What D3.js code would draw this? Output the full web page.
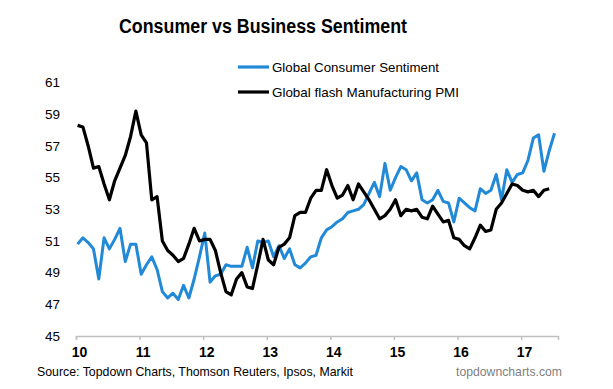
<!DOCTYPE html>
<html>
<head>
<meta charset="utf-8">
<script src="https://cdn.jsdelivr.net/npm/d3@7"></script>
<style>
  body { margin: 0; background: #fff; }
  text { font-family: Arial, "Liberation Sans", sans-serif; fill: #000; }
</style>
</head>
<body>
<div id="chart"></div>
<script>
// Data, monthly from Jan 2010
const consumer = [
  50.8, 51.2, 50.9, 50.5, 48.6, 51.2, 50.5, 51.1, 51.8, 49.7, 50.8, 50.8,
  48.9, 49.5, 50.0, 49.2, 47.8, 47.4, 47.7, 47.3, 48.2, 47.4, 48.6, 50.0,
  51.5, 48.4, 48.8, 48.9, 49.5, 49.4, 49.4, 49.4, 50.6, 49.3, 51.0, 50.9,
  51.0, 50.0, 50.7, 49.9, 50.5, 49.5, 49.3, 49.6, 50.0, 50.1, 51.2, 51.7,
  51.9, 52.2, 52.4, 52.8, 52.9, 53.0, 53.3, 54.0, 54.7, 53.8, 55.9, 54.2,
  55.0, 55.7, 55.5, 54.8, 55.3, 53.6, 53.4, 53.6, 54.2, 53.5, 53.4, 52.2,
  53.7, 53.4, 53.1, 52.9, 54.3, 54.0, 54.2, 55.2, 53.6, 55.5, 54.7, 55.2,
  55.3, 56.1, 57.5, 57.7, 55.4, 56.7, 57.8
];
const pmi = [
  58.3, 58.2, 57.0, 55.6, 55.7, 54.6, 53.6, 54.8, 55.6, 56.4, 57.6, 59.2,
  57.7, 57.2, 53.6, 53.8, 51.0, 50.4, 50.1, 49.7, 49.9, 50.8, 51.8, 51.0,
  51.1, 51.1, 50.4, 49.0, 47.8, 47.6, 48.6, 49.0, 48.1, 48.0, 49.5, 51.1,
  49.8, 49.5, 50.6, 50.8, 51.2, 52.6, 52.8, 52.8, 53.7, 54.2, 54.2, 55.5,
  54.5, 53.7, 53.9, 54.5, 53.6, 54.6, 54.1, 53.6, 53.0, 52.4, 52.6, 53.0,
  53.6, 52.6, 53.0, 52.9, 53.0, 52.5, 52.4, 53.2, 52.7, 52.2, 52.3, 51.2,
  51.1, 50.7, 50.5, 51.2, 52.0, 51.6, 51.7, 53.0, 53.4, 54.0, 54.6, 54.5,
  54.2, 54.1, 54.2, 53.8, 54.2, 54.3
];
const yearTicks = [10, 11, 12, 13, 14, 15, 16, 17];
const yTicks = [45, 47, 49, 51, 53, 55, 57, 59, 61];
const seriesNames = ["Global Consumer Sentiment", "Global flash Manufacturing PMI"];
const seriesColors = ["#2189d5", "#000000"];

const width = 613, height = 389;

// Basic Set up
const svg = d3.select("#chart")
  .append("svg")
    .attr("width", width)
    .attr("height", height);

// Scales (x in years, 10 = 2010)
let x = d3.scaleLinear().domain([10, 17.58]).range([76, 558]);
let y = d3.scaleLinear().domain([45, 61]).range([336, 82.6]);

// month index -> year position
const toYear = (i) => 10 + (i + 0.3) / 12;

let valueline = d3.line()
  .x(function(d, i) { return x(toYear(i)); })
  .y(function(d) { return y(d); });

// Graph Title
svg.append("text")
  .attr("x", 263)
  .attr("y", 33)
  .attr("text-anchor", "middle")
  .attr("textLength", 288)
  .attr("lengthAdjust", "spacingAndGlyphs")
  .style("font-size", "20px")
  .style("font-weight", "bold")
  .text("Consumer vs Business Sentiment");

// X-Axis
const xAxis = svg.append("g")
  .attr("transform", "translate(0,336)")
  .call(d3.axisBottom(x).tickValues(yearTicks).tickSize(4).tickFormat(d3.format("d")));
xAxis.select(".domain").attr("stroke", "#c0c0c0").attr("stroke-width", 1.5);
xAxis.selectAll(".tick line").attr("stroke", "#c0c0c0").attr("stroke-width", 1.5);
xAxis.selectAll(".tick text")
  .attr("dx", 3)
  .attr("y", 11)
  .style("font-size", "14px")
  .style("font-weight", "bold")
  .style("font-family", "Arial, 'Liberation Sans', sans-serif")
  .attr("fill", "#000");

// Y-Axis labels only
const yAxis = svg.append("g")
  .attr("transform", "translate(60,0)")
  .call(d3.axisLeft(y).tickValues(yTicks).tickSize(0).tickPadding(0));
yAxis.select(".domain").remove();
yAxis.selectAll(".tick text")
  .style("font-size", "13.5px")
  .style("font-family", "Arial, 'Liberation Sans', sans-serif")
  .attr("fill", "#000");

// Append Lines (PMI drawn on top)
svg.append("path")
  .datum(consumer)
  .attr("fill", "none")
  .attr("stroke", seriesColors[0])
  .attr("stroke-width", 3)
  .attr("stroke-linejoin", "round")
  .attr("d", valueline);

svg.append("path")
  .datum(pmi)
  .attr("fill", "none")
  .attr("stroke", seriesColors[1])
  .attr("stroke-width", 3.2)
  .attr("stroke-linejoin", "round")
  .attr("d", valueline);

// Legend
const legendY = [67, 92];
const legendLen = [167, 187];
seriesNames.forEach((name, i) => {
  svg.append("line")
    .attr("x1", 238).attr("x2", 269)
    .attr("y1", legendY[i]).attr("y2", legendY[i])
    .attr("stroke", seriesColors[i])
    .attr("stroke-width", 3.2);
  svg.append("text")
    .attr("x", 272)
    .attr("y", legendY[i] + 5)
    .attr("textLength", legendLen[i])
    .attr("lengthAdjust", "spacingAndGlyphs")
    .style("font-size", "13.5px")
    .text(name);
});

// Source
svg.append("text")
  .attr("x", 37)
  .attr("y", 376)
  .attr("textLength", 316)
  .attr("lengthAdjust", "spacingAndGlyphs")
  .style("font-size", "13px")
  .text("Source: Topdown Charts, Thomson Reuters, Ipsos, Markit");

svg.append("text")
  .attr("x", 456)
  .attr("y", 376)
  .attr("textLength", 106)
  .attr("lengthAdjust", "spacingAndGlyphs")
  .style("font-size", "13px")
  .style("fill", "#7f7f7f")
  .text("topdowncharts.com");
</script>
</body>
</html>
